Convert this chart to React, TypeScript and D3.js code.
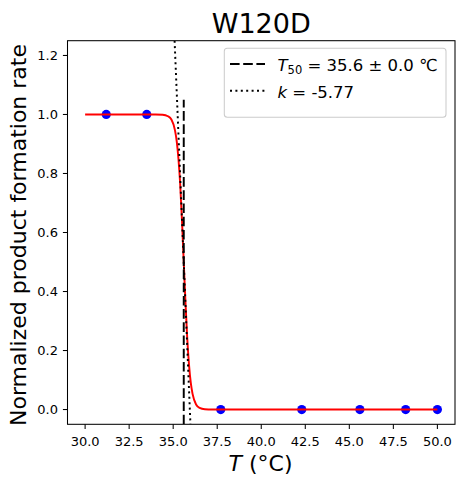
import { useEffect, useRef } from "react";
import * as d3 from "d3";

// measured points
const TEMPS = [31.2, 33.5, 37.7, 42.3, 45.6, 48.2, 50.0];
const RATES = [1, 1, 0, 0, 0, 0, 0];

// fitted curve
const FIT_T = [30.0, 34.0, 34.4, 34.7, 34.9, 35.1, 35.2, 35.3, 35.4, 35.5, 35.6, 35.7, 35.8, 35.9, 36.0, 36.1, 36.3, 36.5, 36.8, 37.2, 50.0];
const FIT_Y = [1.0, 1.0, 0.999, 0.994, 0.983, 0.947, 0.91, 0.849, 0.761, 0.64, 0.5, 0.36, 0.24, 0.151, 0.09, 0.053, 0.017, 0.0055, 0.001, 0.0001, 0.0];

const T50 = 35.6;
const T50_SPAN = [-0.05, 1.05];
const TANGENT_T = [35.08, 35.98];
const TANGENT_Y = [1.25, -0.05];

const X_TICKS = [30, 32.5, 35, 37.5, 40, 42.5, 45, 47.5, 50];
const Y_TICKS = [0, 0.2, 0.4, 0.6, 0.8, 1.0, 1.2];

const FONT = "DejaVu Sans, sans-serif";
const DASHED = "9.6,3.6";
const DOTTED = "2,3.4";

export default function App() {
  const svgRef = useRef<SVGSVGElement>(null);

  useEffect(() => {
    document.body.style.margin = "0";
    if (!svgRef.current) return;

    const width = 464;
    const height = 487;
    const left = 67.5;
    const right = 455;
    const top = 40.7;
    const bottom = 424.3;

    const svg = d3.select(svgRef.current);
    svg.selectAll("*").remove();
    svg.attr("width", width).attr("height", height);

    const x = d3.scaleLinear().domain([29, 51]).range([left, right]);
    const y = d3.scaleLinear().domain([-0.05, 1.25]).range([bottom, top]);

    svg.append("rect").attr("width", width).attr("height", height).attr("fill", "white");

    svg
      .append("clipPath")
      .attr("id", "plot-clip")
      .append("rect")
      .attr("x", left)
      .attr("y", top)
      .attr("width", right - left)
      .attr("height", bottom - top);

    const plot = svg.append("g").attr("clip-path", "url(#plot-clip)");

    // scatter (below the lines, as in matplotlib)
    plot
      .selectAll("circle")
      .data(TEMPS)
      .join("circle")
      .attr("cx", (d) => x(d))
      .attr("cy", (_, i) => y(RATES[i]))
      .attr("r", 4.6)
      .attr("fill", "#0000ff");

    const fitLine = d3
      .line<number>()
      .x((d) => x(d))
      .y((_, i) => y(FIT_Y[i]))
      .curve(d3.curveMonotoneX);

    plot
      .append("path")
      .datum(FIT_T)
      .attr("d", fitLine)
      .attr("fill", "none")
      .attr("stroke", "#ff0000")
      .attr("stroke-width", 1.95);

    // T50 vertical
    plot
      .append("line")
      .attr("x1", x(T50))
      .attr("x2", x(T50))
      .attr("y1", y(T50_SPAN[0]))
      .attr("y2", y(T50_SPAN[1]))
      .attr("stroke", "black")
      .attr("stroke-width", 1.95)
      .attr("stroke-dasharray", DASHED);

    // slope tangent
    plot
      .append("line")
      .attr("x1", x(TANGENT_T[0]))
      .attr("x2", x(TANGENT_T[1]))
      .attr("y1", y(TANGENT_Y[0]))
      .attr("y2", y(TANGENT_Y[1]))
      .attr("stroke", "black")
      .attr("stroke-width", 1.95)
      .attr("stroke-dasharray", DOTTED);

    // frame
    svg
      .append("rect")
      .attr("x", left)
      .attr("y", top)
      .attr("width", right - left)
      .attr("height", bottom - top)
      .attr("fill", "none")
      .attr("stroke", "black")
      .attr("stroke-width", 1.04);

    // x axis ticks
    const xAxis = svg.append("g");
    X_TICKS.forEach((t) => {
      xAxis
        .append("line")
        .attr("x1", x(t))
        .attr("x2", x(t))
        .attr("y1", bottom)
        .attr("y2", bottom + 4.6)
        .attr("stroke", "black")
        .attr("stroke-width", 1.04);
      xAxis
        .append("text")
        .attr("x", x(t))
        .attr("y", 446)
        .attr("text-anchor", "middle")
        .attr("font-family", FONT)
        .attr("font-size", 13)
        .text(t.toFixed(1));
    });

    // y axis ticks
    const yAxis = svg.append("g");
    Y_TICKS.forEach((t) => {
      yAxis
        .append("line")
        .attr("x1", left - 4.6)
        .attr("x2", left)
        .attr("y1", y(t))
        .attr("y2", y(t))
        .attr("stroke", "black")
        .attr("stroke-width", 1.04);
      yAxis
        .append("text")
        .attr("x", left - 9.5)
        .attr("y", y(t) + 4.7)
        .attr("text-anchor", "end")
        .attr("font-family", FONT)
        .attr("font-size", 13)
        .text(t.toFixed(1));
    });

    // title
    svg
      .append("text")
      .attr("x", (left + right) / 2)
      .attr("y", 32.5)
      .attr("text-anchor", "middle")
      .attr("font-family", FONT)
      .attr("font-size", 27)
      .text("W120D");

    // x label
    const xl = svg
      .append("text")
      .attr("x", 260.5)
      .attr("y", 471)
      .attr("text-anchor", "middle")
      .attr("font-family", FONT)
      .attr("font-size", 22);
    xl.append("tspan").attr("font-style", "italic").text("T");
    xl.append("tspan").text(" (°C)");

    // y label
    svg
      .append("text")
      .attr("transform", `translate(25.5,235) rotate(-90)`)
      .attr("text-anchor", "middle")
      .attr("font-family", FONT)
      .attr("font-size", 22)
      .text("Normalized product formation rate");

    // legend
    const lg = svg.append("g");
    lg.append("rect")
      .attr("x", 224.3)
      .attr("y", 48.3)
      .attr("width", 446 - 224.3)
      .attr("height", 117.3 - 48.3)
      .attr("rx", 3)
      .attr("fill", "white")
      .attr("fill-opacity", 0.8)
      .attr("stroke", "#cccccc")
      .attr("stroke-width", 1.04);

    lg.append("line")
      .attr("x1", 230)
      .attr("x2", 265)
      .attr("y1", 64)
      .attr("y2", 64)
      .attr("stroke", "black")
      .attr("stroke-width", 1.95)
      .attr("stroke-dasharray", DASHED);
    lg.append("line")
      .attr("x1", 230)
      .attr("x2", 265)
      .attr("y1", 90.7)
      .attr("y2", 90.7)
      .attr("stroke", "black")
      .attr("stroke-width", 1.95)
      .attr("stroke-dasharray", DOTTED);

    const t1 = lg
      .append("text")
      .attr("x", 277.5)
      .attr("y", 70.7)
      .attr("font-family", FONT)
      .attr("font-size", 16.5);
    t1.append("tspan").attr("font-style", "italic").text("T");
    t1.append("tspan").attr("font-size", 11.5).attr("dy", 3).text("50");
    t1.append("tspan").attr("dy", -3).text(" = 35.6 ± 0.0 ℃");

    const t2 = lg
      .append("text")
      .attr("x", 277.5)
      .attr("y", 98.3)
      .attr("font-family", FONT)
      .attr("font-size", 16.5);
    t2.append("tspan").attr("font-style", "italic").text("k");
    t2.append("tspan").text(" = -5.77");
  }, []);

  return <svg ref={svgRef} style={{ display: "block" }} />;
}
